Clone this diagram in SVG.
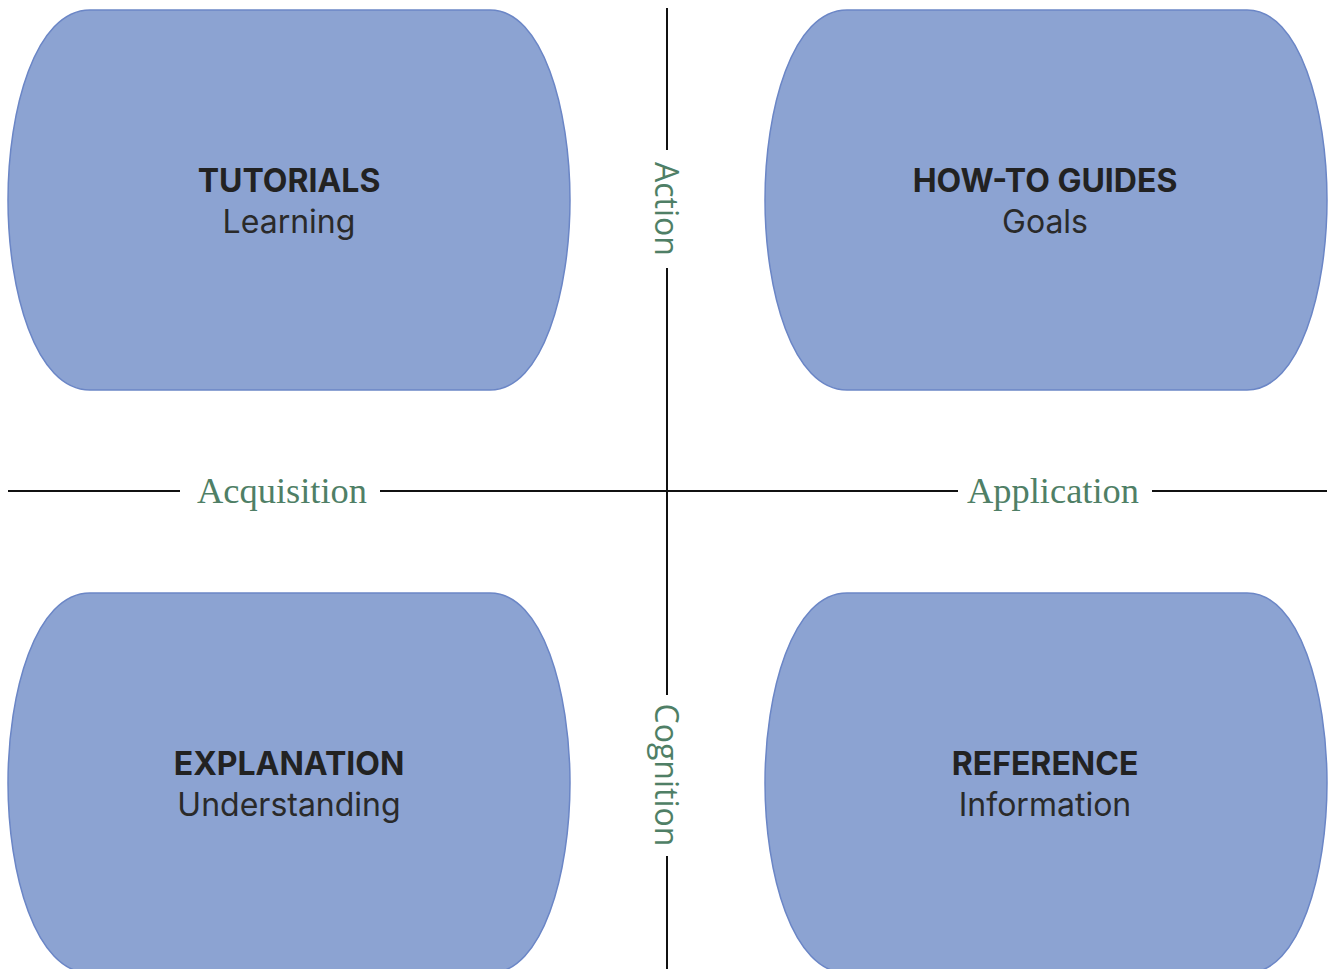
<svg xmlns="http://www.w3.org/2000/svg" width="1331" height="969" viewBox="0 0 1331 969">
  <style>
    .node { fill: #8ca3d2; stroke: #6b86c6; stroke-width: 1.5; }
    .title { font-family: Inter, "Liberation Sans", sans-serif; font-size: 32px; font-weight: 700; fill: #222; text-anchor: middle; }
    .sub { font-family: Inter, "Liberation Sans", sans-serif; font-size: 32px; font-weight: 400; fill: #2a2a2a; text-anchor: middle; }
    .axis { stroke: #111; stroke-width: 2; fill: none; }
    .hlabel { font-family: "Liberation Serif", serif; font-size: 36px; fill: #4f7f66; text-anchor: middle; dominant-baseline: central; }
    .vlabel { font-family: "Open Sans", "Liberation Sans", sans-serif; font-size: 32px; fill: #4f7f66; text-anchor: middle; dominant-baseline: central; }
  </style>
  <defs>
    <!-- quadrant card: flat top and bottom, bulging sides -->
    <path id="card" d="M 82,0 H 482 C 535,0 562,100 562,190 C 562,280 535,380 482,380 H 82 C 27,380 0,280 0,190 C 0,100 27,0 82,0 Z"/>
  </defs>
  <rect width="1331" height="969" fill="#ffffff"/>

  <g id="axes">
    <path class="axis" d="M 667,8 V 150 M 667,268 V 695 M 667,856 V 969"/>
    <path class="axis" d="M 8,491 H 180 M 380,491 H 958 M 1152,491 H 1327"/>
    <text class="vlabel" transform="rotate(90 667 209)" x="667" y="209">Action</text>
    <text class="vlabel" transform="rotate(90 667 775)" x="667" y="775">Cognition</text>
    <text class="hlabel" x="282" y="491" textLength="170" lengthAdjust="spacingAndGlyphs">Acquisition</text>
    <text class="hlabel" x="1053" y="491" textLength="172" lengthAdjust="spacingAndGlyphs">Application</text>
  </g>

  <g id="tutorials">
    <use href="#card" class="node" transform="translate(8 10)"/>
    <text class="title" x="289" y="192">TUTORIALS</text>
    <text class="sub" x="289" y="233">Learning</text>
  </g>

  <g id="howto">
    <use href="#card" class="node" transform="translate(765 10)"/>
    <text class="title" x="1045" y="192">HOW-TO GUIDES</text>
    <text class="sub" x="1045" y="233">Goals</text>
  </g>

  <g id="explanation">
    <use href="#card" class="node" transform="translate(8 593)"/>
    <text class="title" x="289" y="775">EXPLANATION</text>
    <text class="sub" x="289" y="816">Understanding</text>
  </g>

  <g id="reference">
    <use href="#card" class="node" transform="translate(765 593)"/>
    <text class="title" x="1045" y="775">REFERENCE</text>
    <text class="sub" x="1045" y="816">Information</text>
  </g>
</svg>
